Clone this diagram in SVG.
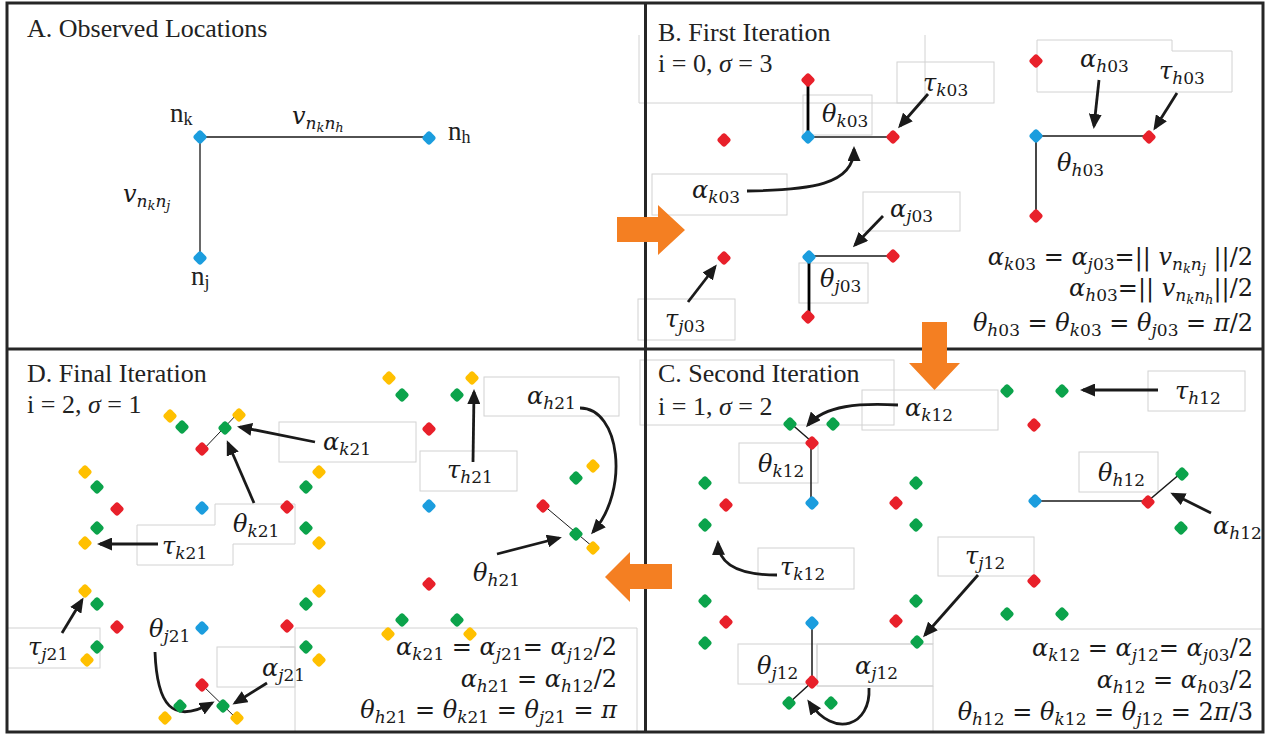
<svg xmlns="http://www.w3.org/2000/svg" width="1271" height="735" viewBox="0 0 1271 735">
<style>
.frame{fill:none;stroke:#262626;stroke-width:3}
.box{fill:none;stroke:#d2d2d2;stroke-width:1}
.ttl{font-family:"Liberation Serif","Times New Roman",serif;font-size:26px;fill:#222}
.nl{font-family:"Liberation Serif","Times New Roman",serif;font-size:27px;fill:#222}
.m{font-family:"DejaVu Serif",serif;font-size:24px;fill:#1a1a1a}
.s{font-size:17px}
.ss{font-size:13px}
.i{font-style:italic}
.ar{fill:none;stroke:#1a1a1a;stroke-width:2.8;marker-end:url(#ah)}
.ln{fill:none;stroke:#1a1a1a;stroke-width:1.3}
.lt{fill:none;stroke:#000;stroke-width:2.8}
.or{fill:#F47F22}
.b{fill:#1B9DDE}.r{fill:#E8202A}.g{fill:#0BA34B}.y{fill:#FFC000}
</style>
<defs>
<marker id="ah" viewBox="0 0 15 13" refX="12" refY="6.5" markerWidth="15" markerHeight="13" markerUnits="userSpaceOnUse" orient="auto"><path d="M0,0 L15,6.5 L0,13 Z" fill="#1a1a1a"/></marker>
<rect id="dt" x="-5.4" y="-5.4" width="10.8" height="10.8" rx="2.8" transform="rotate(45)"/>
</defs>
<rect width="1271" height="735" fill="#fff"/>

<g id="textboxes">
<path class="box" d="M639,35 V103 H925 V35"/>
<rect class="box" x="803" y="95" width="69" height="40"/>
<rect class="box" x="897" y="62" width="97" height="41"/>
<rect class="box" x="652" y="174" width="135" height="41"/>
<rect class="box" x="863" y="192" width="97" height="39"/>
<rect class="box" x="799" y="263" width="69" height="40"/>
<rect class="box" x="638" y="299" width="97" height="41"/>
<path class="box" d="M1037,40 H1172 V51 H1232 V92 H1037 Z"/>
<rect class="box" x="640" y="360" width="254" height="65"/>
<rect class="box" x="862" y="390" width="136" height="40"/>
<rect class="box" x="739" y="443" width="79" height="40"/>
<rect class="box" x="758" y="548" width="96" height="41"/>
<rect class="box" x="1148" y="371" width="97" height="40"/>
<rect class="box" x="1079" y="452" width="79" height="40"/>
<rect class="box" x="938" y="537" width="96" height="39"/>
<path class="box" d="M1262,629 H933 V644 H817"/>
<rect class="box" x="738" y="644" width="79" height="40"/>
<rect class="box" x="817" y="644" width="116" height="42"/>
<path class="box" d="M817,686 H933 V732"/>
<rect class="box" x="279" y="422" width="137" height="40"/>
<path class="box" d="M215,504 H295 V544 H233 V565 H137 V525 H215 Z"/>
<rect class="box" x="420" y="451" width="97" height="40"/>
<rect class="box" x="484" y="377" width="135" height="39"/>
<rect class="box" x="7" y="628" width="93" height="40"/>
<path class="box" d="M280,647 H295 M280,687 H295 M295,732 V628 H637 V732"/>
<rect class="box" x="217" y="647" width="78" height="40"/>
</g>

<g id="frame">
<rect class="frame" x="7" y="3" width="1256" height="729"/>
<line class="frame" x1="645.5" y1="3" x2="645.5" y2="732"/>
<line class="frame" x1="7" y1="349" x2="1263" y2="349"/>
</g>

<g id="flow-arrows">
<polygon class="or" points="617,217 658,217 658,205 685,230 658,255 658,242 617,242"/>
<polygon class="or" points="922,322 947,322 947,363 960,363 934.5,390 909,363 922,363"/>
<polygon class="or" points="672,564 672,589 630,589 630,602 605,577 630,552 630,564"/>
</g>

<g id="titles">
<text class="ttl" x="27" y="37">A. Observed Locations</text>
<text class="ttl" x="658" y="41">B. First Iteration</text>
<text class="ttl" x="658" y="72">i = 0, <tspan font-style="italic">σ</tspan> = 3</text>
<text class="ttl" x="658" y="382">C. Second Iteration</text>
<text class="ttl" x="658" y="415">i = 1, <tspan font-style="italic">σ</tspan> = 2</text>
<text class="ttl" x="27" y="382">D. Final Iteration</text>
<text class="ttl" x="27" y="413">i = 2, <tspan font-style="italic">σ</tspan> = 1</text>
</g>

<g id="connectors">
<path class="ln" d="M200,137 H429 M200,137 V258"/>
<path class="lt" d="M808,81 V137 M809,257 V314"/>
<path class="ln" d="M808,137 H893 M809,256 H893"/>
<path class="ln" style="stroke-width:1.6" d="M1036,136 H1149 M1036,136 V216"/>
<path class="ln" style="stroke-width:1.5" d="M788,421 L811,441 V503 M812,623 V682 L789,703 M1035,501 H1148 L1181,473"/>
<path class="ln" style="stroke-width:1" d="M200,453 L239,412 M200,683 L237,719 M542,504 L593,547"/>
<path class="ar" d="M928,94 L900,126"/>
<path class="ar" d="M747,191 C810,190 854,185 854,149"/>
<path class="ar" d="M883,216 L855,245"/>
<path class="ar" d="M688,302 L715,267"/>
<path class="ar" d="M1099,80 L1094,126"/>
<path class="ar" d="M1177,93 L1155,128"/>
<path class="ar" d="M898,405 C860,403 825,405 808,425"/>
<path class="ar" d="M777,575 C745,575 719,568 718,543"/>
<path class="ar" d="M869,688 C871,725 835,740 809,702"/>
<path class="ar" d="M1158,390 L1083,390"/>
<path class="ar" d="M1211,513 L1173,494"/>
<path class="ar" d="M978,575 L925,635"/>
<path class="ar" d="M315,442 L240,427"/>
<path class="ar" d="M254,503 L228,443"/>
<path class="ar" d="M158,544 L100,544"/>
<path class="ar" d="M62,633 L82,600"/>
<path class="ar" d="M155,652 C157,705 172,725 212,703"/>
<path class="ar" d="M267,683 L235,703"/>
<path class="ar" d="M473,462 L474,392"/>
<path class="ar" d="M580,408 C620,408 630,490 593,532"/>
<path class="ar" d="M497,554 L559,538"/>
</g>

<g id="A-nodes">
<g id="A-nk"><use href="#dt" x="200" y="137" class="b"/><text class="nl" x="170" y="122">n<tspan font-size="18" dy="3">k</tspan></text></g>
<g id="A-nh"><use href="#dt" x="429" y="138" class="b"/><text class="nl" x="448" y="140">n<tspan font-size="18" dy="3">h</tspan></text></g>
<g id="A-nj"><use href="#dt" x="200" y="258" class="b"/><text class="nl" x="191" y="285">n<tspan font-size="18" dy="3">j</tspan></text></g>
<g id="A-vkh"><text class="m" x="292" y="124"><tspan class="i">v</tspan><tspan class="s i" dy="5">n</tspan><tspan class="ss i" dy="3">k</tspan><tspan class="s i" dy="-3">n</tspan><tspan class="ss i" dy="3">h</tspan></text></g>
<g id="A-vkj"><text class="m" x="123" y="202"><tspan class="i">v</tspan><tspan class="s i" dy="5">n</tspan><tspan class="ss i" dy="3">k</tspan><tspan class="s i" dy="-3">n</tspan><tspan class="ss i" dy="3">j</tspan></text></g>
</g>

<g id="B-nodes">
<g id="B-k"><use href="#dt" x="808" y="80" class="r"/><use href="#dt" x="808" y="137" class="b"/><use href="#dt" x="893" y="137" class="r"/><use href="#dt" x="724" y="140" class="r"/></g>
<g id="B-j"><use href="#dt" x="809" y="257" class="b"/><use href="#dt" x="893" y="256" class="r"/><use href="#dt" x="808" y="317" class="r"/><use href="#dt" x="724" y="258" class="r"/></g>
<g id="B-h"><use href="#dt" x="1036" y="61" class="r"/><use href="#dt" x="1036" y="136" class="b"/><use href="#dt" x="1149" y="137" class="r"/><use href="#dt" x="1036" y="216" class="r"/></g>
<g id="B-labels">
<text class="m" x="822" y="122"><tspan class="i">θ</tspan><tspan class="s" dy="5"><tspan class="i">k</tspan>03</tspan></text>
<text class="m" x="923" y="91"><tspan class="i">τ</tspan><tspan class="s" dy="5"><tspan class="i">k</tspan>03</tspan></text>
<text class="m" x="692" y="198"><tspan class="i">α</tspan><tspan class="s" dy="5"><tspan class="i">k</tspan>03</tspan></text>
<text class="m" x="890" y="217"><tspan class="i">α</tspan><tspan class="s" dy="5"><tspan class="i">j</tspan>03</tspan></text>
<text class="m" x="820" y="287"><tspan class="i">θ</tspan><tspan class="s" dy="5"><tspan class="i">j</tspan>03</tspan></text>
<text class="m" x="665" y="327"><tspan class="i">τ</tspan><tspan class="s" dy="5"><tspan class="i">j</tspan>03</tspan></text>
<text class="m" x="1080" y="67"><tspan class="i">α</tspan><tspan class="s" dy="5"><tspan class="i">h</tspan>03</tspan></text>
<text class="m" x="1159" y="79"><tspan class="i">τ</tspan><tspan class="s" dy="5"><tspan class="i">h</tspan>03</tspan></text>
<text class="m" x="1057" y="171"><tspan class="i">θ</tspan><tspan class="s" dy="5"><tspan class="i">h</tspan>03</tspan></text>
</g>
<g id="B-equations">
<text class="m" x="1253" y="265" text-anchor="end"><tspan class="i">α</tspan><tspan class="s" dy="5"><tspan class="i">k</tspan>03</tspan><tspan dy="-5"> = </tspan><tspan class="i">α</tspan><tspan class="s" dy="5"><tspan class="i">j</tspan>03</tspan><tspan dy="-5">=|| </tspan><tspan class="i">v</tspan><tspan class="s i" dy="5">n</tspan><tspan class="ss i" dy="3">k</tspan><tspan class="s i" dy="-3">n</tspan><tspan class="ss i" dy="3">j</tspan><tspan dy="-8"> ||/2</tspan></text>
<text class="m" x="1253" y="296" text-anchor="end"><tspan class="i">α</tspan><tspan class="s" dy="5"><tspan class="i">h</tspan>03</tspan><tspan dy="-5">=|| </tspan><tspan class="i">v</tspan><tspan class="s i" dy="5">n</tspan><tspan class="ss i" dy="3">k</tspan><tspan class="s i" dy="-3">n</tspan><tspan class="ss i" dy="3">h</tspan><tspan dy="-8">||/2</tspan></text>
<text class="m" x="1253" y="331" text-anchor="end"><tspan class="i">θ</tspan><tspan class="s" dy="5"><tspan class="i">h</tspan>03</tspan><tspan dy="-5"> = </tspan><tspan class="i">θ</tspan><tspan class="s" dy="5"><tspan class="i">k</tspan>03</tspan><tspan dy="-5"> = </tspan><tspan class="i">θ</tspan><tspan class="s" dy="5"><tspan class="i">j</tspan>03</tspan><tspan dy="-5"> = </tspan><tspan class="i">π</tspan>/2</text>
</g>
</g>

<g id="C-nodes">
<g id="C-k"><use href="#dt" x="790" y="424" class="g"/><use href="#dt" x="833" y="424" class="g"/><use href="#dt" x="812" y="443" class="r"/><use href="#dt" x="812" y="503" class="b"/><use href="#dt" x="705" y="483" class="g"/><use href="#dt" x="726" y="505" class="r"/><use href="#dt" x="705" y="525" class="g"/><use href="#dt" x="916" y="483" class="g"/><use href="#dt" x="896" y="503" class="r"/><use href="#dt" x="916" y="525" class="g"/></g>
<g id="C-j"><use href="#dt" x="705" y="601" class="g"/><use href="#dt" x="726" y="622" class="r"/><use href="#dt" x="705" y="643" class="g"/><use href="#dt" x="812" y="623" class="b"/><use href="#dt" x="896" y="621" class="r"/><use href="#dt" x="916" y="601" class="g"/><use href="#dt" x="917" y="642" class="g"/><use href="#dt" x="812" y="682" class="r"/><use href="#dt" x="789" y="703" class="g"/><use href="#dt" x="831" y="703" class="g"/></g>
<g id="C-h"><use href="#dt" x="1007" y="391" class="g"/><use href="#dt" x="1062" y="391" class="g"/><use href="#dt" x="1034" y="425" class="r"/><use href="#dt" x="1035" y="501" class="b"/><use href="#dt" x="1148" y="502" class="r"/><use href="#dt" x="1182" y="474" class="g"/><use href="#dt" x="1181" y="528" class="g"/><use href="#dt" x="1034" y="581" class="r"/><use href="#dt" x="1007" y="614" class="g"/><use href="#dt" x="1062" y="614" class="g"/></g>
<g id="C-labels">
<text class="m" x="905" y="416"><tspan class="i">α</tspan><tspan class="s" dy="5"><tspan class="i">k</tspan>12</tspan></text>
<text class="m" x="758" y="472"><tspan class="i">θ</tspan><tspan class="s" dy="5"><tspan class="i">k</tspan>12</tspan></text>
<text class="m" x="780" y="575"><tspan class="i">τ</tspan><tspan class="s" dy="5"><tspan class="i">k</tspan>12</tspan></text>
<text class="m" x="757" y="674"><tspan class="i">θ</tspan><tspan class="s" dy="5"><tspan class="i">j</tspan>12</tspan></text>
<text class="m" x="855" y="674"><tspan class="i">α</tspan><tspan class="s" dy="5"><tspan class="i">j</tspan>12</tspan></text>
<text class="m" x="1175" y="399"><tspan class="i">τ</tspan><tspan class="s" dy="5"><tspan class="i">h</tspan>12</tspan></text>
<text class="m" x="1098" y="481"><tspan class="i">θ</tspan><tspan class="s" dy="5"><tspan class="i">h</tspan>12</tspan></text>
<text class="m" x="1213" y="534"><tspan class="i">α</tspan><tspan class="s" dy="5"><tspan class="i">h</tspan>12</tspan></text>
<text class="m" x="965" y="564"><tspan class="i">τ</tspan><tspan class="s" dy="5"><tspan class="i">j</tspan>12</tspan></text>
</g>
<g id="C-equations">
<text class="m" x="1253" y="656" text-anchor="end"><tspan class="i">α</tspan><tspan class="s" dy="5"><tspan class="i">k</tspan>12</tspan><tspan dy="-5"> = </tspan><tspan class="i">α</tspan><tspan class="s" dy="5"><tspan class="i">j</tspan>12</tspan><tspan dy="-5">= </tspan><tspan class="i">α</tspan><tspan class="s" dy="5"><tspan class="i">j</tspan>03</tspan><tspan dy="-5">/2</tspan></text>
<text class="m" x="1253" y="688" text-anchor="end"><tspan class="i">α</tspan><tspan class="s" dy="5"><tspan class="i">h</tspan>12</tspan><tspan dy="-5"> = </tspan><tspan class="i">α</tspan><tspan class="s" dy="5"><tspan class="i">h</tspan>03</tspan><tspan dy="-5">/2</tspan></text>
<text class="m" x="1253" y="720" text-anchor="end"><tspan class="i">θ</tspan><tspan class="s" dy="5"><tspan class="i">h</tspan>12</tspan><tspan dy="-5"> = </tspan><tspan class="i">θ</tspan><tspan class="s" dy="5"><tspan class="i">k</tspan>12</tspan><tspan dy="-5"> = </tspan><tspan class="i">θ</tspan><tspan class="s" dy="5"><tspan class="i">j</tspan>12</tspan><tspan dy="-5"> = 2</tspan><tspan class="i">π</tspan>/3</text>
</g>
</g>

<g id="D-nodes">
<g id="D-k"><use href="#dt" x="170" y="416" class="y"/><use href="#dt" x="182" y="427" class="g"/><use href="#dt" x="239" y="415" class="y"/><use href="#dt" x="225" y="428" class="g"/><use href="#dt" x="202" y="449" class="r"/><use href="#dt" x="85" y="472" class="y"/><use href="#dt" x="97" y="487" class="g"/><use href="#dt" x="117" y="509" class="r"/><use href="#dt" x="97" y="528" class="g"/><use href="#dt" x="85" y="543" class="y"/><use href="#dt" x="202" y="508" class="b"/><use href="#dt" x="287" y="507" class="r"/><use href="#dt" x="319" y="472" class="y"/><use href="#dt" x="306" y="487" class="g"/><use href="#dt" x="306" y="528" class="g"/><use href="#dt" x="319" y="543" class="y"/></g>
<g id="D-j"><use href="#dt" x="85" y="591" class="y"/><use href="#dt" x="97" y="604" class="g"/><use href="#dt" x="117" y="627" class="r"/><use href="#dt" x="97" y="647" class="g"/><use href="#dt" x="87" y="660" class="y"/><use href="#dt" x="202" y="628" class="b"/><use href="#dt" x="319" y="591" class="y"/><use href="#dt" x="306" y="604" class="g"/><use href="#dt" x="287" y="626" class="r"/><use href="#dt" x="306" y="647" class="g"/><use href="#dt" x="319" y="660" class="y"/><use href="#dt" x="202" y="685" class="r"/><use href="#dt" x="180" y="706" class="g"/><use href="#dt" x="223" y="706" class="g"/><use href="#dt" x="165" y="718" class="y"/><use href="#dt" x="237" y="718" class="y"/></g>
<g id="D-h"><use href="#dt" x="389" y="378" class="y"/><use href="#dt" x="402" y="395" class="g"/><use href="#dt" x="472" y="378" class="y"/><use href="#dt" x="457" y="395" class="g"/><use href="#dt" x="429" y="429" class="r"/><use href="#dt" x="593" y="466" class="y"/><use href="#dt" x="576" y="478" class="g"/><use href="#dt" x="543" y="506" class="r"/><use href="#dt" x="576" y="534" class="g"/><use href="#dt" x="593" y="548" class="y"/><use href="#dt" x="429" y="506" class="b"/><use href="#dt" x="429" y="584" class="r"/><use href="#dt" x="402" y="620" class="g"/><use href="#dt" x="457" y="620" class="g"/><use href="#dt" x="388" y="634" class="y"/><use href="#dt" x="470" y="634" class="y"/></g>
<g id="D-labels">
<text class="m" x="323" y="450"><tspan class="i">α</tspan><tspan class="s" dy="5"><tspan class="i">k</tspan>21</tspan></text>
<text class="m" x="233" y="532"><tspan class="i">θ</tspan><tspan class="s" dy="5"><tspan class="i">k</tspan>21</tspan></text>
<text class="m" x="162" y="554"><tspan class="i">τ</tspan><tspan class="s" dy="5"><tspan class="i">k</tspan>21</tspan></text>
<text class="m" x="28" y="655"><tspan class="i">τ</tspan><tspan class="s" dy="5"><tspan class="i">j</tspan>21</tspan></text>
<text class="m" x="149" y="637"><tspan class="i">θ</tspan><tspan class="s" dy="5"><tspan class="i">j</tspan>21</tspan></text>
<text class="m" x="262" y="676"><tspan class="i">α</tspan><tspan class="s" dy="5"><tspan class="i">j</tspan>21</tspan></text>
<text class="m" x="447" y="478"><tspan class="i">τ</tspan><tspan class="s" dy="5"><tspan class="i">h</tspan>21</tspan></text>
<text class="m" x="527" y="404"><tspan class="i">α</tspan><tspan class="s" dy="5"><tspan class="i">h</tspan>21</tspan></text>
<text class="m" x="473" y="581"><tspan class="i">θ</tspan><tspan class="s" dy="5"><tspan class="i">h</tspan>21</tspan></text>
</g>
<g id="D-equations">
<text class="m" x="617" y="655" text-anchor="end"><tspan class="i">α</tspan><tspan class="s" dy="5"><tspan class="i">k</tspan>21</tspan><tspan dy="-5"> = </tspan><tspan class="i">α</tspan><tspan class="s" dy="5"><tspan class="i">j</tspan>21</tspan><tspan dy="-5">= </tspan><tspan class="i">α</tspan><tspan class="s" dy="5"><tspan class="i">j</tspan>12</tspan><tspan dy="-5">/2</tspan></text>
<text class="m" x="617" y="687" text-anchor="end"><tspan class="i">α</tspan><tspan class="s" dy="5"><tspan class="i">h</tspan>21</tspan><tspan dy="-5"> = </tspan><tspan class="i">α</tspan><tspan class="s" dy="5"><tspan class="i">h</tspan>12</tspan><tspan dy="-5">/2</tspan></text>
<text class="m" x="617" y="718" text-anchor="end"><tspan class="i">θ</tspan><tspan class="s" dy="5"><tspan class="i">h</tspan>21</tspan><tspan dy="-5"> = </tspan><tspan class="i">θ</tspan><tspan class="s" dy="5"><tspan class="i">k</tspan>21</tspan><tspan dy="-5"> = </tspan><tspan class="i">θ</tspan><tspan class="s" dy="5"><tspan class="i">j</tspan>21</tspan><tspan dy="-5"> = </tspan><tspan class="i">π</tspan></text>
</g>
</g>
</svg>
